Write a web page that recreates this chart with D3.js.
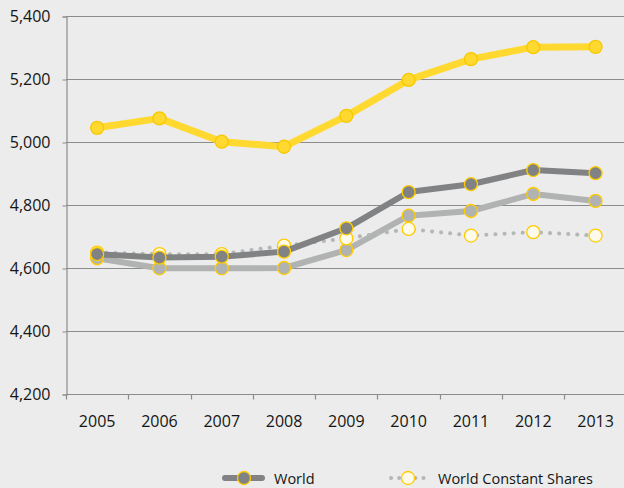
<!DOCTYPE html>
<head>
	<script src="https://d3js.org/d3.v7.min.js"></script>
	<style>
		body {
			margin: 0;
			background: #ebeceb;
		}
		.tick-label {
			font-family: "Open Sans", "Noto Sans", sans-serif;
			font-size: 16px;
			fill: #151515;
		}
		.legend {
			font-family: "Open Sans", "Noto Sans", sans-serif;
			font-size: 14.5px;
			fill: #151515;
		}
	</style>
</head>
<body>
	<script>
		// data
		var years = ["2005", "2006", "2007", "2008", "2009", "2010", "2011", "2012", "2013"];
		var yellowSeries = [5045, 5075, 5001, 4985, 5083, 5197, 5263, 5301, 5302];
		var world = [4644, 4633, 4636, 4652, 4726, 4841, 4866, 4911, 4901];
		var lightSeries = [4631, 4599, 4599, 4600, 4657, 4766, 4781, 4835, 4813];
		var worldConstant = [4649, 4644, 4644, 4671, 4694, 4724, 4703, 4714, 4703];
		var yTicks = [4200, 4400, 4600, 4800, 5000, 5200, 5400];
		var legendNames = ["World", "World Constant Shares"];

		var width = 624;
		var height = 488;
		var margin = { top: 16, left: 66, bottom: 94 };

		var svg = d3.select("body")
			.append("svg")
			.attr("width", width)
			.attr("height", height);

		svg.append("rect")
			.attr("width", width)
			.attr("height", height)
			.attr("fill", "#ebeceb");

		// scales
		var xScale = d3.scaleBand()
			.domain(years)
			.range([margin.left, margin.left + 9 * 62.3]);

		var yScale = d3.scaleLinear()
			.domain([4200, 5400])
			.range([height - margin.bottom, margin.top]);

		var cx = function(i) { return xScale(years[i]) + xScale.bandwidth() / 2; };

		// gridlines
		svg.append("g")
			.selectAll("line")
			.data(yTicks)
			.enter()
			.append("line")
			.attr("x1", margin.left)
			.attr("x2", width)
			.attr("y1", function(d) { return yScale(d) + 0.5; })
			.attr("y2", function(d) { return yScale(d) + 0.5; })
			.attr("stroke", "#8c8c8c")
			.attr("stroke-width", 1.2);

		// y axis
		var yAxis = svg.append("g")
			.attr("transform", "translate(" + [margin.left + 0.5, 0.5] + ")")
			.call(d3.axisLeft(yScale)
				.tickValues(yTicks)
				.tickSize(4)
				.tickPadding(12)
				.tickFormat(d3.format(",")));
		yAxis.select(".domain").attr("stroke", "#8c8c8c").attr("stroke-width", 1.2);
		yAxis.selectAll(".tick line").attr("stroke", "#8c8c8c");
		yAxis.selectAll(".tick text").attr("class", "tick-label").attr("font-family", null).attr("font-size", null);

		// x axis
		var xAxis = svg.append("g")
			.attr("transform", "translate(" + [0, yScale(4200) + 0.5] + ")");
		xAxis.append("g")
			.selectAll("line")
			.data(d3.range(years.length + 1))
			.enter()
			.append("line")
			.attr("x1", function(i) { return Math.round(xScale.range()[0] + i * xScale.step()) + 0.5; })
			.attr("x2", function(i) { return Math.round(xScale.range()[0] + i * xScale.step()) + 0.5; })
			.attr("y1", 0)
			.attr("y2", 5)
			.attr("stroke", "#8c8c8c")
			.attr("stroke-width", 1.2);
		xAxis.selectAll("text")
			.data(years)
			.enter()
			.append("text")
			.attr("class", "tick-label")
			.attr("x", function(d, i) { return cx(i); })
			.attr("y", 32)
			.attr("text-anchor", "middle")
			.text(function(d) { return d; });

		var line = d3.line()
			.x(function(d, i) { return cx(i); })
			.y(function(d) { return yScale(d); });

		function drawSeries(values, opts) {
			var g = svg.append("g");
			g.append("path")
				.datum(values)
				.attr("d", line)
				.attr("fill", "none")
				.attr("stroke", opts.color)
				.attr("stroke-width", opts.width)
				.attr("stroke-linejoin", "round")
				.attr("stroke-linecap", "round")
				.attr("stroke-dasharray", opts.dash || null);
			g.selectAll("circle")
				.data(values)
				.enter()
				.append("circle")
				.attr("cx", function(d, i) { return cx(i); })
				.attr("cy", function(d) { return yScale(d); })
				.attr("r", 6.5)
				.attr("fill", opts.fill)
				.attr("stroke", opts.stroke)
				.attr("stroke-width", 1.3);
		}

		drawSeries(lightSeries, { color: "#b1b3b3", width: 6, fill: "#b1b3b3", stroke: "#ffcc00" });
		drawSeries(worldConstant, { color: "#b5b7b7", width: 4, dash: "0.1,9", fill: "#fffbea", stroke: "#ffcc00" });
		drawSeries(world, { color: "#808283", width: 6, fill: "#808283", stroke: "#ffcc00" });
		drawSeries(yellowSeries, { color: "#ffd92f", width: 7, fill: "#ffd92f", stroke: "#f7c800" });

		// legend
		var legend = svg.append("g").attr("transform", "translate(0,478)");
		legend.append("line")
			.attr("x1", 225).attr("x2", 262).attr("y1", 0).attr("y2", 0)
			.attr("stroke", "#808283").attr("stroke-width", 6).attr("stroke-linecap", "round");
		legend.append("circle")
			.attr("cx", 244).attr("cy", 0).attr("r", 6.5)
			.attr("fill", "#808283").attr("stroke", "#ffcc00").attr("stroke-width", 1.3);
		legend.append("text")
			.attr("class", "legend")
			.attr("x", 274).attr("y", 5.5)
			.text(legendNames[0]);

		legend.append("line")
			.attr("x1", 391).attr("x2", 429).attr("y1", 0).attr("y2", 0)
			.attr("stroke", "#b5b7b7").attr("stroke-width", 4).attr("stroke-linecap", "round")
			.attr("stroke-dasharray", "0.1,8");
		legend.append("circle")
			.attr("cx", 408).attr("cy", 0).attr("r", 6.5)
			.attr("fill", "#fffbea").attr("stroke", "#ffcc00").attr("stroke-width", 1.3);
		legend.append("text")
			.attr("class", "legend")
			.attr("x", 438).attr("y", 5.5)
			.text(legendNames[1]);
	</script>
</body>
</html>
